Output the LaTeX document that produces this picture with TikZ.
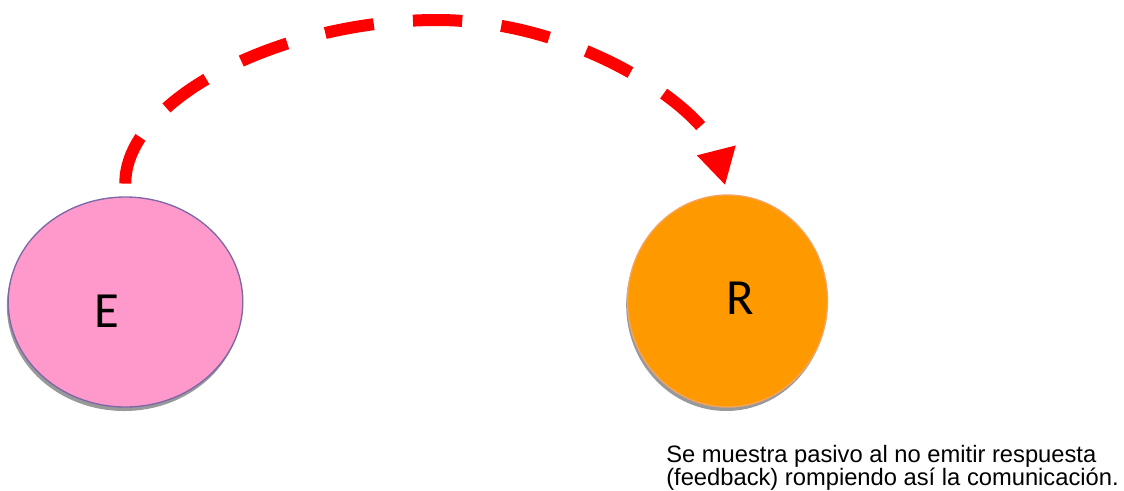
\documentclass[tikz,border=0pt]{standalone}
\usepackage{fontspec}
\setmainfont{Liberation Sans}
\newfontfamily\calib{Carlito}
\usetikzlibrary{arrows.meta,shapes.geometric,shadows}
\definecolor{epink}{HTML}{FF99CC}
\definecolor{eborder}{HTML}{7B68A6}
\definecolor{rorange}{HTML}{FF9900}
\definecolor{rborder}{HTML}{F4A460}
\definecolor{arc}{HTML}{FF0000}
\tikzset{
  bubble/.style={ellipse, inner sep=0pt, line width=1pt,
    drop shadow={shadow xshift=-1pt, shadow yshift=-3pt, fill=gray!80, opacity=1}},
  letter/.style={font=\calib\fontsize{38}{40}\selectfont, inner sep=0pt},
  flow/.style={draw=arc, line width=9pt, dash pattern=on 37pt off 29.5pt, dash phase=43pt,
    {Triangle[length=27pt,width=28pt]}-},
  note/.style={font=\fontsize{17.8}{17.25}\selectfont, align=left, inner sep=0pt, anchor=base west}
}
\begin{document}
\begin{tikzpicture}[x=0.75pt,y=-0.75pt]
\useasboundingbox (0,0) rectangle (1124,490);
\node[bubble, fill=epink, draw=eborder, minimum width=176pt, minimum height=157.5pt] (E) at (125.5,302) {};
\node[bubble, fill=rorange, draw=rborder, minimum width=150pt, minimum height=159pt] (R) at (727.5,301) {};
\node[letter] (Et) at (107,311) {E};
\node[letter] (Rt) at (740,298) {R};
\coordinate (top) at (437,20);
\draw[flow, shorten >=9pt, shorten <=7pt] (R.north) .. controls (706,110) and (580,20) .. (top) .. controls (280,20) and (124,100) .. (E.north);
\node[note] (txt) at (666,485) {Se muestra pasivo al no emitir respuesta\\(feedback) rompiendo así la comunicación.};
\end{tikzpicture}
\end{document}
